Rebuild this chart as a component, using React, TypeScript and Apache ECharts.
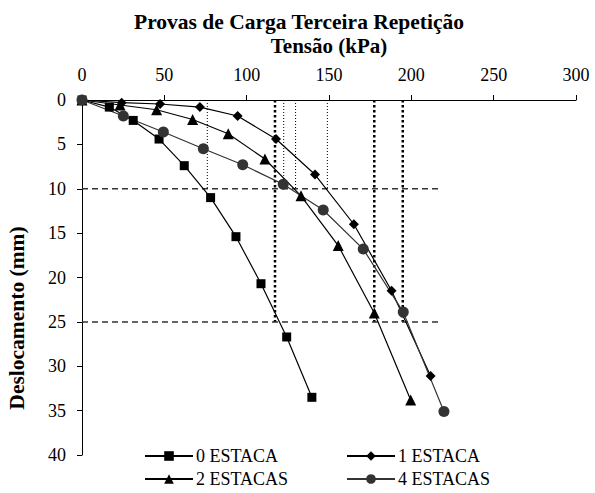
import React, { useEffect, useRef } from "react";
import * as echarts from "echarts";

const titleText = "Provas de Carga Terceira Repetição";
const xName = "Tensão (kPa)";
const yName = "Deslocamento (mm)";

const seriesNames = ["0 ESTACA", "1 ESTACA", "2 ESTACAS", "4 ESTACAS"];

const tensao0 = [0, 16.6, 31.1, 46.8, 62.1, 78.1, 93.5, 108.7, 124.3, 139.6];
const desloc0 = [0, 0.8, 2.3, 4.4, 7.4, 11.0, 15.4, 20.7, 26.7, 33.5];

const tensao1 = [0, 24.1, 47.4, 71.6, 94.5, 117.8, 141.5, 165.1, 188.0, 211.7];
const desloc1 = [0, 0.3, 0.45, 0.8, 1.8, 4.4, 8.4, 14.0, 21.5, 31.1];

const tensao2 = [0, 23.1, 45.3, 67.2, 88.8, 111.1, 133.0, 155.6, 177.5, 199.6];
const desloc2 = [0, 0.56, 1.1, 2.2, 3.8, 6.65, 10.8, 16.4, 24.0, 33.8];

const tensao4 = [0, 25.1, 49.4, 73.7, 97.6, 122.2, 146.5, 170.8, 195.1, 219.8];
const desloc4 = [0, 1.8, 3.6, 5.5, 7.3, 9.5, 12.4, 16.8, 23.9, 35.1];

// reference lines
const thinRefX = [76.1, 122.5, 129.7, 149.0];
const thinRefDepth = 10;
const thickRefX = [117.2, 177.5, 194.8];
const thickRefDepth = 25;
const dashRefY = [10, 25];
const dashRefXEnd = 217;

const xTicks = { min: 0, max: 300, interval: 50 };
const yTicks = { min: 0, max: 40, interval: 5 };

const zip = (xs: number[], ys: number[]) => xs.map((x, i) => [x, ys[i]]);

export default function App() {
  const ref = useRef<HTMLDivElement>(null);
  useEffect(() => {
    if (!ref.current) return;
    const chart = echarts.init(ref.current, null, { renderer: "svg" });
    const font = "Liberation Serif, serif";

    const refSeries: any[] = [];
    thinRefX.forEach((x) =>
      refSeries.push({
        type: "line",
        silent: true,
        symbol: "none",
        z: 1,
        data: [
          [x, 0],
          [x, thinRefDepth],
        ],
        lineStyle: { color: "#000", width: 1, type: [1, 2] },
      })
    );
    thickRefX.forEach((x) =>
      refSeries.push({
        type: "line",
        silent: true,
        symbol: "none",
        z: 1,
        data: [
          [x, 0],
          [x, thickRefDepth],
        ],
        lineStyle: { color: "#000", width: 2.5, type: [2.5, 2.5] },
      })
    );
    dashRefY.forEach((y) =>
      refSeries.push({
        type: "line",
        silent: true,
        symbol: "none",
        z: 1,
        data: [
          [0, y],
          [dashRefXEnd, y],
        ],
        lineStyle: { color: "#333", width: 1.5, type: [6, 4] },
      })
    );

    const mk = (name: string, data: number[][], symbol: string, size: number, color: string) => ({
      name,
      type: "line",
      data,
      symbol,
      symbolSize: size,
      z: 3,
      itemStyle: { color, borderWidth: 0 },
      lineStyle: { color, width: 1.2 },
    });

    const legendPos = [
      { left: 144, top: 447 },
      { left: 346, top: 447 },
      { left: 144, top: 470 },
      { left: 346, top: 470 },
    ];
    const legends = seriesNames.map((n, i) => ({
      data: [n],
      left: legendPos[i].left,
      top: legendPos[i].top,
      itemWidth: 48,
      itemHeight: 12,
      itemGap: 4,
      padding: 0,
      textStyle: { fontFamily: font, fontSize: 18, color: "#000", padding: [0, 0, 0, -2] },
    }));

    chart.setOption({
      animation: false,
      backgroundColor: "#fff",
      title: {
        text: titleText,
        left: 294,
        textAlign: "center",
        top: 6,
        textStyle: { fontFamily: font, fontSize: 21.5, fontWeight: "bold", color: "#000" },
      },
      legend: legends,
      grid: { left: 82, top: 100, width: 494, height: 355 },
      xAxis: {
        type: "value",
        position: "top",
        min: xTicks.min,
        max: xTicks.max,
        interval: xTicks.interval,
        name: xName,
        nameLocation: "middle",
        nameGap: 44,
        nameTextStyle: { fontFamily: font, fontSize: 21, fontWeight: "bold", color: "#000" },
        axisLine: { show: true, lineStyle: { color: "#000", width: 1 } },
        axisTick: { show: true, length: 5, lineStyle: { color: "#000" } },
        axisLabel: { fontFamily: font, fontSize: 18, color: "#000", margin: 16 },
        splitLine: { show: false },
      },
      yAxis: {
        type: "value",
        inverse: true,
        min: yTicks.min,
        max: yTicks.max,
        interval: yTicks.interval,
        axisLine: { show: true, lineStyle: { color: "#000", width: 1 } },
        axisTick: { show: true, length: 5, lineStyle: { color: "#000" } },
        axisLabel: { fontFamily: font, fontSize: 18, color: "#000", margin: 16 },
        splitLine: { show: false },
      },
      graphic: [
        {
          type: "text",
          x: 17,
          y: 318,
          rotation: Math.PI / 2,
          style: {
            text: yName,
            fontFamily: font,
            fontSize: 21.5,
            fontWeight: "bold",
            fill: "#000",
            align: "center",
            verticalAlign: "middle",
          },
        },
      ],
      series: [
        ...refSeries,
        mk(seriesNames[0], zip(tensao0, desloc0), "rect", 9, "#000"),
        mk(seriesNames[1], zip(tensao1, desloc1), "diamond", 10, "#000"),
        mk(seriesNames[2], zip(tensao2, desloc2), "triangle", 11, "#000"),
        mk(seriesNames[3], zip(tensao4, desloc4), "circle", 11, "#333"),
      ],
    });
    return () => chart.dispose();
  }, []);
  return (
    <div
      ref={ref}
      style={{ position: "fixed", left: 0, top: 0, width: 595, height: 493, background: "#fff" }}
    />
  );
}
